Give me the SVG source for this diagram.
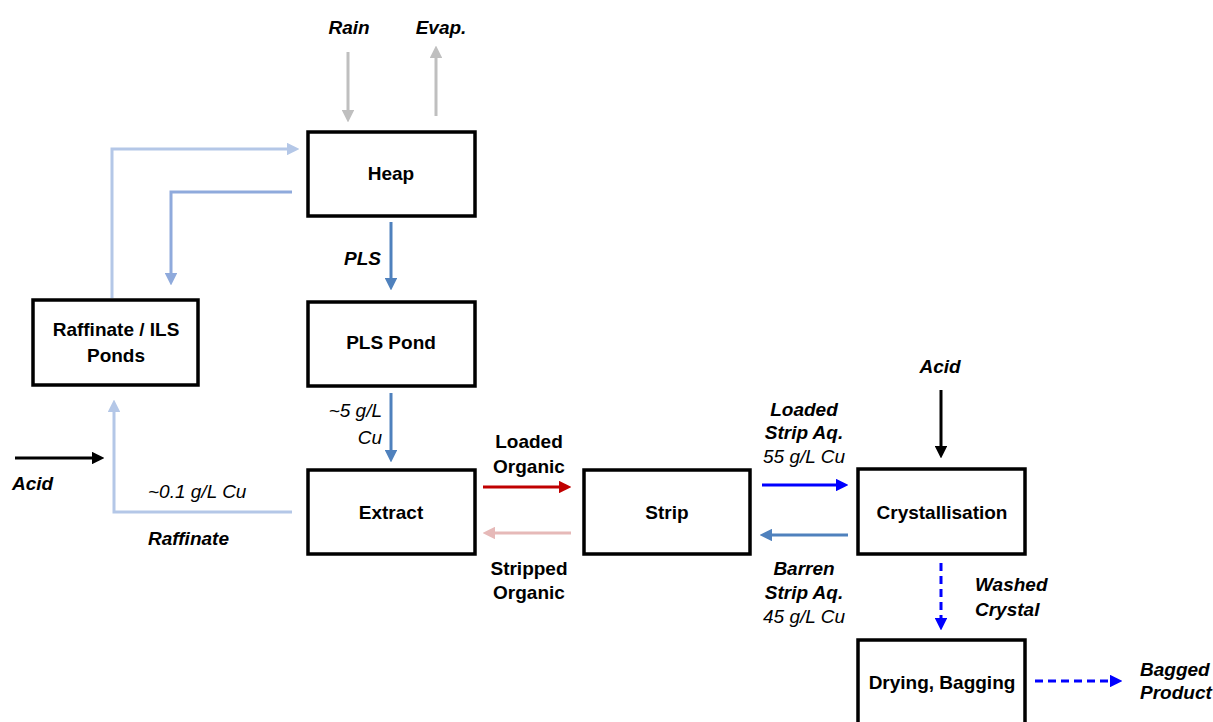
<svg xmlns="http://www.w3.org/2000/svg" width="1213" height="722" viewBox="0 0 1213 722">
<style>
.box{fill:#fff;stroke:#000;stroke-width:3.5}
.nt{font-family:"Liberation Sans",Arial,sans-serif;font-weight:bold;font-size:19px;text-anchor:middle;fill:#000}
.lb{font-family:"Liberation Sans",Arial,sans-serif;font-weight:bold;font-style:italic;font-size:19px;fill:#000}
.lbn{font-family:"Liberation Sans",Arial,sans-serif;font-weight:bold;font-size:19px;fill:#000}
.li{font-family:"Liberation Sans",Arial,sans-serif;font-style:italic;font-size:19px;fill:#000}
.c{fill:none;stroke-width:3}
</style>
<defs>
<marker id="aGray" viewBox="0 0 10 10" refX="5" refY="5" markerWidth="4.3" markerHeight="4.3" orient="auto"><path d="M0,0L10,5L0,10z" fill="#bfbfbf"/></marker>
<marker id="aLight" viewBox="0 0 10 10" refX="5" refY="5" markerWidth="4.3" markerHeight="4.3" orient="auto"><path d="M0,0L10,5L0,10z" fill="#b4c7e7"/></marker>
<marker id="aMid" viewBox="0 0 10 10" refX="5" refY="5" markerWidth="4.3" markerHeight="4.3" orient="auto"><path d="M0,0L10,5L0,10z" fill="#8faadc"/></marker>
<marker id="aSteel" viewBox="0 0 10 10" refX="5" refY="5" markerWidth="4.3" markerHeight="4.3" orient="auto"><path d="M0,0L10,5L0,10z" fill="#4f81bd"/></marker>
<marker id="aBlack" viewBox="0 0 10 10" refX="5" refY="5" markerWidth="4.3" markerHeight="4.3" orient="auto"><path d="M0,0L10,5L0,10z" fill="#000"/></marker>
<marker id="aRed" viewBox="0 0 10 10" refX="5" refY="5" markerWidth="4.3" markerHeight="4.3" orient="auto"><path d="M0,0L10,5L0,10z" fill="#c00000"/></marker>
<marker id="aPink" viewBox="0 0 10 10" refX="5" refY="5" markerWidth="4.3" markerHeight="4.3" orient="auto"><path d="M0,0L10,5L0,10z" fill="#e6b9b8"/></marker>
<marker id="aBlue" viewBox="0 0 10 10" refX="5" refY="5" markerWidth="4.3" markerHeight="4.3" orient="auto"><path d="M0,0L10,5L0,10z" fill="#0000ff"/></marker>
</defs>
<rect width="1213" height="722" fill="#fff"/>
<g id="connectors">
<line class="c" x1="348" y1="52" x2="348" y2="116" stroke="#bfbfbf" marker-end="url(#aGray)"/>
<line class="c" x1="436" y1="116" x2="436" y2="52" stroke="#bfbfbf" marker-end="url(#aGray)"/>
<polyline class="c" points="112,298 112,149 293,149" stroke="#b4c7e7" marker-end="url(#aLight)"/>
<polyline class="c" points="292,192 171,192 171,279" stroke="#8faadc" marker-end="url(#aMid)"/>
<line class="c" x1="391" y1="222" x2="391" y2="284" stroke="#4f81bd" marker-end="url(#aSteel)"/>
<line class="c" x1="391" y1="393" x2="391" y2="456" stroke="#4f81bd" marker-end="url(#aSteel)"/>
<polyline class="c" points="292,512 114,512 114,406" stroke="#b4c7e7" marker-end="url(#aLight)"/>
<line class="c" x1="15" y1="458" x2="98" y2="458" stroke="#000" marker-end="url(#aBlack)"/>
<line class="c" x1="483" y1="487" x2="565" y2="487" stroke="#c00000" marker-end="url(#aRed)"/>
<line class="c" x1="571" y1="533" x2="489" y2="533" stroke="#e6b9b8" marker-end="url(#aPink)"/>
<line class="c" x1="762" y1="485" x2="842" y2="485" stroke="#0000ff" marker-end="url(#aBlue)"/>
<line class="c" x1="848" y1="535" x2="766" y2="535" stroke="#4f81bd" marker-end="url(#aSteel)"/>
<line class="c" x1="941" y1="390" x2="941" y2="452" stroke="#000" marker-end="url(#aBlack)"/>
<line class="c" x1="941" y1="563" x2="941" y2="624" stroke="#0000ff" stroke-dasharray="8,5" marker-end="url(#aBlue)"/>
<line class="c" x1="1035" y1="681" x2="1116" y2="681" stroke="#0000ff" stroke-dasharray="8,5" marker-end="url(#aBlue)"/>
</g>
<g id="heap"><rect class="box" x="308" y="132" width="167" height="84"/><text class="nt" x="391" y="180">Heap</text></g>
<g id="pls-pond"><rect class="box" x="308" y="302" width="167" height="84"/><text class="nt" x="391" y="349">PLS Pond</text></g>
<g id="raffinate-ponds"><rect class="box" x="33" y="300" width="165" height="85"/><text class="nt" x="116" y="336">Raffinate / ILS</text><text class="nt" x="116" y="362">Ponds</text></g>
<g id="extract"><rect class="box" x="308" y="470" width="167" height="84"/><text class="nt" x="391" y="519">Extract</text></g>
<g id="strip"><rect class="box" x="584" y="470" width="166" height="84"/><text class="nt" x="667" y="519">Strip</text></g>
<g id="crystallisation"><rect class="box" x="858" y="469" width="167" height="85"/><text class="nt" x="942" y="519">Crystallisation</text></g>
<g id="drying"><rect class="box" x="858" y="640" width="167" height="90"/><text class="nt" x="942" y="689">Drying, Bagging</text></g>
<g id="labels">
<text class="lb" x="349" y="34" text-anchor="middle">Rain</text>
<text class="lb" x="441" y="34" text-anchor="middle">Evap.</text>
<text class="lb" x="381" y="265" text-anchor="end">PLS</text>
<text class="li" x="382" y="417" text-anchor="end">~5 g/L</text>
<text class="li" x="382" y="444" text-anchor="end">Cu</text>
<text class="lb" x="12" y="490">Acid</text>
<text class="li" x="148" y="498">~0.1 g/L Cu</text>
<text class="lb" x="148" y="545">Raffinate</text>
<text class="lbn" x="529" y="448" text-anchor="middle">Loaded</text>
<text class="lbn" x="529" y="473" text-anchor="middle">Organic</text>
<text class="lbn" x="529" y="575" text-anchor="middle">Stripped</text>
<text class="lbn" x="529" y="599" text-anchor="middle">Organic</text>
<text class="lb" x="804" y="416" text-anchor="middle">Loaded</text>
<text class="lb" x="804" y="439" text-anchor="middle">Strip Aq.</text>
<text class="li" x="804" y="463" text-anchor="middle">55 g/L Cu</text>
<text class="lb" x="804" y="575" text-anchor="middle">Barren</text>
<text class="lb" x="804" y="599" text-anchor="middle">Strip Aq.</text>
<text class="li" x="804" y="623" text-anchor="middle">45 g/L Cu</text>
<text class="lb" x="940" y="373" text-anchor="middle">Acid</text>
<text class="lb" x="975" y="591">Washed</text>
<text class="lb" x="975" y="616">Crystal</text>
<text class="lb" x="1140" y="676">Bagged</text>
<text class="lb" x="1140" y="699">Product</text>
</g>
</svg>
